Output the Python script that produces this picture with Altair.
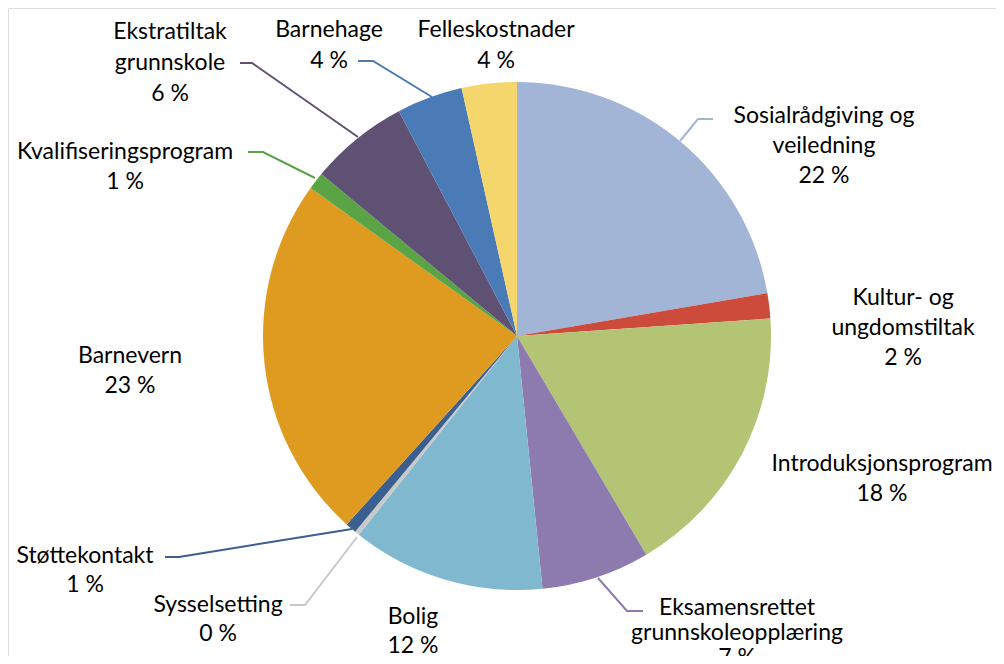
import altair as alt
import pandas as pd

categories = ["Sosialrådgiving og veiledning", "Kultur- og ungdomstiltak", "Introduksjonsprogram",
              "Eksamensrettet grunnskoleopplæring", "Bolig", "Sysselsetting", "Støttekontakt",
              "Barnevern", "Kvalifiseringsprogram", "Ekstratiltak grunnskole", "Barnehage", "Felleskostnader"]
values = [22.3, 1.6, 17.6, 6.9, 12.3, 0.3, 0.7, 23.2, 1.1, 6.3, 4.2, 3.5]
shown_pct = [22, 2, 18, 7, 12, 0, 1, 23, 1, 6, 4, 4]
colors = ["#A3B5D6", "#CC4B3A", "#B3C474", "#8D7BAF", "#7FB8CF", "#C9C9C9", "#3B5F8E",
          "#DF9B20", "#5BA445", "#5E5173", "#4A7BB6", "#F4D66C"]

# label layout (page pixels): lines, centre x, first line y, spacing
label_lines = [
    ["Sosialrådgiving og", "veiledning"],
    ["Kultur- og", "ungdomstiltak"],
    ["Introduksjonsprogram"],
    ["Eksamensrettet", "grunnskoleopplæring"],
    ["Bolig"],
    ["Sysselsetting"],
    ["Støttekontakt"],
    ["Barnevern"],
    ["Kvalifiseringsprogram"],
    ["Ekstratiltak", "grunnskole"],
    ["Barnehage"],
    ["Felleskostnader"],
]
label_x = [824, 903, 882, 737, 413, 218, 85, 130, 125, 170, 329, 496]
label_y = [116, 298, 464, 608, 617, 605, 556, 356, 152, 32, 30, 30]
label_dy = [30, 30, 30, 25, 29, 29, 29, 30, 30, 31, 31, 31]
# leader lines (page pixels)
leaders = {
    0: [(680, 141), (698, 119), (713, 119)],
    3: [(598, 578), (627, 611), (643, 611)],
    5: [(357, 537), (305, 605), (290, 605)],
    6: [(352, 529), (179, 557), (165, 557)],
    8: [(315, 178), (263, 152), (248, 152)],
    9: [(358, 137), (252, 63), (240, 63)],
    10: [(432, 97), (373, 61), (358, 61)],
}

OFF = 8
cx, cy, R = 517 - OFF, 336 - OFF, 254

pie_df = pd.DataFrame({"cat": categories, "value": values, "order": list(range(len(values)))})
color_scale = alt.Scale(domain=categories, range=colors)

pie = alt.Chart(pie_df).mark_arc(outerRadius=R).encode(
    theta=alt.Theta("value:Q", stack=True),
    order=alt.Order("order:Q"),
    color=alt.Color("cat:N", scale=color_scale, legend=None),
    x=alt.value(cx), y=alt.value(cy),
)

rows = []
for i, lines in enumerate(label_lines):
    allines = lines + [f"{shown_pct[i]} %"]
    for j, t in enumerate(allines):
        rows.append({"t": t, "x": label_x[i] - OFF, "y": label_y[i] + j * label_dy[i] - OFF})
txt_df = pd.DataFrame(rows)
texts = alt.Chart(txt_df).mark_text(font="Lato", fontSize=23, color="#000000",
                                    align="center", baseline="middle").encode(
    x=alt.X("x:Q", scale=None, axis=None), y=alt.Y("y:Q", scale=None, axis=None), text="t:N")

lrows = []
for i, pts in leaders.items():
    for k, (px, py) in enumerate(pts):
        lrows.append({"cat": categories[i], "k": k, "x": px - OFF, "y": py - OFF})
lead_df = pd.DataFrame(lrows)
lines = alt.Chart(lead_df).mark_line(strokeWidth=2).encode(
    x=alt.X("x:Q", scale=None, axis=None), y=alt.Y("y:Q", scale=None, axis=None),
    order="k:Q", detail="cat:N",
    color=alt.Color("cat:N", scale=color_scale, legend=None))

chart = alt.layer(pie, lines, texts).properties(
    width=988, height=648, padding=0, autosize=alt.AutoSizeParams(type="none")
).configure_view(stroke=None).configure(background="white")

chart.save("out.html", embed_options={"renderer": "svg", "actions": False})
